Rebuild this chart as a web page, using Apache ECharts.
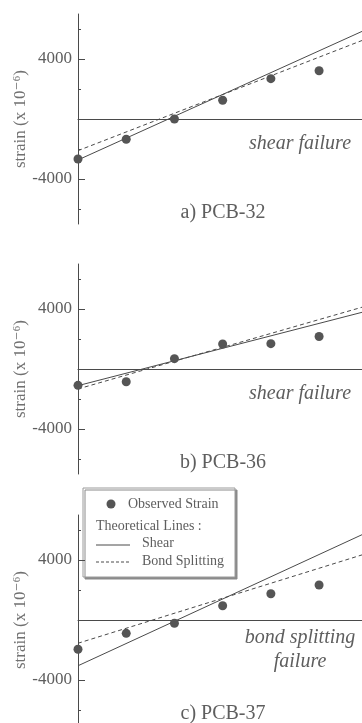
<!DOCTYPE html>
<html>
<head>
<meta charset="utf-8">
<script src="https://cdn.jsdelivr.net/npm/echarts@6/dist/echarts.min.js"></script>
<style>
  html, body { margin: 0; padding: 0; background: #fff; }
  #chart { width: 362px; height: 723px; }
</style>
</head>
<body>
<div id="chart"></div>
<script>
// gauge positions along the bar (equal spacing) and observed strains, x 10^-6
const gaugeIdx = [0, 1, 2, 3, 4, 5];
const obs32 = [-2670, -1350, 0, 1250, 2690, 3220];
const obs36 = [-1090, -850, 690, 1670, 1690, 2170];
const obs37 = [-1950, -890, -220, 950, 1750, 2330];

// theoretical lines, value at gauge 0 and gauge 6
const lineX = [0, 6];
const shear32 = [-2730, 6000];
const bond32 = [-2110, 5370];
const shear36 = [-1110, 3870];
const bond36 = [-1330, 4220];
const shear37 = [-3050, 5850];
const bond37 = [-1550, 4450];

const yTicks = [-6000, -4000, -2000, 0, 2000, 4000, 6000];
const yLabels = [-4000, 4000];
const panelTitles = ["a) PCB-32", "b) PCB-36", "c) PCB-37"];
const failureNotes = [["shear failure"], ["shear failure"], ["bond splitting", "failure"]];

const serif = "'Liberation Serif', 'DejaVu Serif', serif";
const ink = "#4a4a4a";
const textGray = "#5e5e5e";

const panels = [
  { obs: obs32, shear: shear32, bond: bond32 },
  { obs: obs36, shear: shear36, bond: bond36 },
  { obs: obs37, shear: shear37, bond: bond37 }
];
const zeroY = [119, 369, 620];
const pxPer4000 = 60;
const gridH = pxPer4000 * 14000 / 4000;

const toPairs = (xs, ys) => xs.map((x, i) => [x, ys[i]]);

let grids = [], xAxes = [], yAxes = [], series = [], graphics = [];
panels.forEach((p, i) => {
  grids.push({ left: 78, right: 0, top: zeroY[i] - gridH / 2, height: gridH, containLabel: false, outerBoundsMode: "none" });
  xAxes.push({
    type: "value", gridIndex: i, min: 0, max: 5.89,
    axisLine: { show: true, onZero: true, onZeroAxisIndex: i * 2, lineStyle: { color: ink, width: 1 } },
    axisTick: { show: false }, axisLabel: { show: false }, splitLine: { show: false }
  });
  yAxes.push({
    type: "value", gridIndex: i, min: -7000, max: 7000, position: "left",
    name: "strain (x 10⁻⁶)", nameLocation: "middle", nameRotate: 90, nameGap: 49, nameMoveOverlap: false,
    nameTextStyle: { fontFamily: serif, fontSize: 17, color: "#707070" },
    axisLine: { show: true, lineStyle: { color: ink, width: 1 } },
    axisTick: { show: true, inside: true, length: 3, customValues: yTicks, lineStyle: { color: ink } },
    axisLabel: { show: true, customValues: yLabels, margin: 6, fontFamily: serif, fontSize: 17, color: textGray,
      formatter: (v) => String(v) },
    splitLine: { show: false }
  });
  yAxes.push({
    type: "value", gridIndex: i, min: -7000, max: 7000, position: "left",
    axisLine: { show: false },
    axisTick: { show: true, inside: true, length: 7, customValues: yLabels, lineStyle: { color: ink } },
    axisLabel: { show: false }, splitLine: { show: false }
  });
  series.push({
    type: "line", xAxisIndex: i, yAxisIndex: i * 2, data: toPairs(lineX, p.shear),
    showSymbol: false, lineStyle: { color: ink, width: 1 }, silent: true
  });
  series.push({
    type: "line", xAxisIndex: i, yAxisIndex: i * 2, data: toPairs(lineX, p.bond),
    showSymbol: false, lineStyle: { color: ink, width: 1, type: [4, 3] }, silent: true
  });
  series.push({
    type: "scatter", xAxisIndex: i, yAxisIndex: i * 2, data: toPairs(gaugeIdx, p.obs),
    symbolSize: 9, itemStyle: { color: "#555", opacity: 1 }, z: 5
  });

  // panel caption and failure-mode note
  graphics.push({
    type: "text", x: 223, y: zeroY[i] + 94,
    style: { text: panelTitles[i], font: "20px " + serif, fill: textGray, textAlign: "center", textVerticalAlign: "middle" }
  });
  const notes = failureNotes[i];
  notes.forEach((t, k) => {
    const y = notes.length === 1 ? zeroY[i] + 25 : zeroY[i] + 18 + k * 24;
    graphics.push({
      type: "text", x: 300, y: y,
      style: { text: t, font: "italic 20px " + serif, fill: textGray, textAlign: "center", textVerticalAlign: "middle" }
    });
  });
});

// legend box in panel c
graphics.push({
  type: "group", x: 0, y: 0, z: 100,
  children: [
    { type: "rect", shape: { x: 83, y: 488, width: 152, height: 89 },
      style: { fill: "#fff", stroke: "#9a9a9a", lineWidth: 1, shadowColor: "#8a8a8a", shadowOffsetX: 2, shadowOffsetY: 2, shadowBlur: 0 } },
    { type: "circle", shape: { cx: 111, cy: 504, r: 4.5 }, style: { fill: "#555" } },
    { type: "text", x: 128, y: 504, style: { text: "Observed Strain", font: "14px " + serif, fill: textGray, textVerticalAlign: "middle" } },
    { type: "text", x: 96, y: 526, style: { text: "Theoretical Lines :", font: "14px " + serif, fill: textGray, textVerticalAlign: "middle" } },
    { type: "line", shape: { x1: 96, y1: 545, x2: 130, y2: 545 }, style: { stroke: ink, lineWidth: 1 } },
    { type: "text", x: 142, y: 543, style: { text: "Shear", font: "14px " + serif, fill: textGray, textVerticalAlign: "middle" } },
    { type: "line", shape: { x1: 96, y1: 562, x2: 130, y2: 562 }, style: { stroke: ink, lineWidth: 1, lineDash: [3, 2] } },
    { type: "text", x: 142, y: 561, style: { text: "Bond Splitting", font: "14px " + serif, fill: textGray, textVerticalAlign: "middle" } }
  ]
});

const chart = echarts.init(document.getElementById("chart"), null, { renderer: "canvas" });
chart.setOption({
  backgroundColor: "#fff",
  animation: false,
  grid: grids,
  xAxis: xAxes,
  yAxis: yAxes,
  series: series,
  graphic: graphics
});
</script>
</body>
</html>
